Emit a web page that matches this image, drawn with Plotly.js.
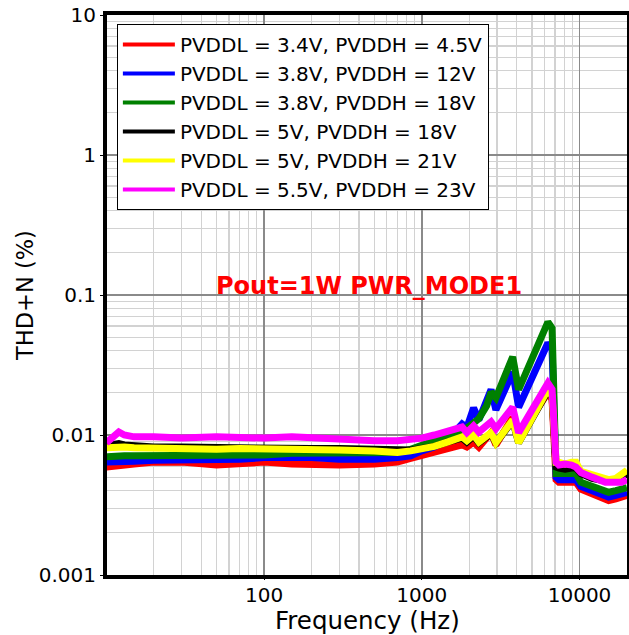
<!DOCTYPE html>
<html>
<head>
<meta charset="utf-8">
<script src="https://cdn.plot.ly/plotly-3.0.1.min.js"></script>
<style>
  html, body { margin: 0; padding: 0; background: #ffffff; }
  #chart { width: 629px; height: 635px; }
</style>
</head>
<body>
<div id="chart"></div>
<script>
// Frequency sweep points (Hz)
const freqHz = [10, 11, 12, 13, 15, 20, 30, 50, 70, 100,
  150, 200, 300, 500, 700, 850, 1000, 1200, 1450, 1700,
  1800, 1930, 2130, 2300, 2580, 2750, 2950, 3770, 4110, 6300,
  6700, 7100, 7400, 8100, 8900, 9500, 10200, 11400, 12000, 14600,
  15300, 17000, 18500, 20000];

// THD+N (%) for each supply condition
const thdPvddl34Pvddh45 = [0.0059, 0.0060, 0.0061, 0.0062, 0.0062, 0.0064, 0.0064, 0.0061, 0.0062, 0.0064,
  0.0062, 0.0061, 0.0061, 0.0062, 0.0064, 0.0068, 0.0071, 0.0075, 0.0079, 0.0083,
  0.0085, 0.0082, 0.0089, 0.0082, 0.0095, 0.0104, 0.0085, 0.0134, 0.0095, 0.0201,
  0.0180, 0.0048, 0.0046, 0.0046, 0.0046, 0.0046, 0.0041, 0.0039, 0.0037, 0.0034,
  0.0034, 0.0035, 0.0036, 0.0037];
const thdPvddl38Pvddh12 = [0.0064, 0.0064, 0.0065, 0.0065, 0.0065, 0.0066, 0.0066, 0.0067, 0.0067, 0.0069,
  0.0069, 0.0069, 0.0067, 0.0067, 0.0069, 0.0071, 0.0077, 0.0082, 0.0092, 0.0110,
  0.0120, 0.0113, 0.0156, 0.0128, 0.0169, 0.0211, 0.0151, 0.0282, 0.0158, 0.0454,
  0.0410, 0.0050, 0.0048, 0.0048, 0.0048, 0.0048, 0.0043, 0.0041, 0.0039, 0.0036,
  0.0036, 0.0037, 0.0038, 0.0039];
const thdPvddl38Pvddh18 = [0.0070, 0.0071, 0.0072, 0.0071, 0.0071, 0.0071, 0.0072, 0.0072, 0.0072, 0.0072,
  0.0074, 0.0074, 0.0075, 0.0075, 0.0075, 0.0079, 0.0085, 0.0091, 0.0097, 0.0105,
  0.0109, 0.0112, 0.0122, 0.0131, 0.0162, 0.0203, 0.0184, 0.0361, 0.0211, 0.0641,
  0.0580, 0.0053, 0.0053, 0.0053, 0.0053, 0.0053, 0.0046, 0.0044, 0.0042, 0.0040,
  0.0039, 0.0040, 0.0041, 0.0042];
const thdPvddl5Pvddh18 = [0.0084, 0.0085, 0.0087, 0.0085, 0.0084, 0.0082, 0.0082, 0.0081, 0.0082, 0.0081,
  0.0081, 0.0080, 0.0080, 0.0078, 0.0077, 0.0078, 0.0080, 0.0083, 0.0089, 0.0093,
  0.0095, 0.0089, 0.0098, 0.0088, 0.0095, 0.0102, 0.0088, 0.0126, 0.0088, 0.0207,
  0.0187, 0.0059, 0.0058, 0.0057, 0.0058, 0.0058, 0.0053, 0.0050, 0.0049, 0.0047,
  0.0047, 0.0048, 0.0050, 0.0053];
const thdPvddl5Pvddh21 = [0.0081, 0.0082, 0.0083, 0.0082, 0.0081, 0.0080, 0.0080, 0.0079, 0.0080, 0.0079,
  0.0079, 0.0078, 0.0078, 0.0077, 0.0075, 0.0077, 0.0079, 0.0083, 0.0089, 0.0095,
  0.0097, 0.0091, 0.0100, 0.0089, 0.0097, 0.0104, 0.0088, 0.0128, 0.0088, 0.0211,
  0.0190, 0.0064, 0.0064, 0.0062, 0.0064, 0.0064, 0.0055, 0.0053, 0.0051, 0.0048,
  0.0048, 0.0049, 0.0053, 0.0056];
const thdPvddl55Pvddh23 = [0.0088, 0.0095, 0.0105, 0.0100, 0.0097, 0.0097, 0.0095, 0.0097, 0.0095, 0.0095,
  0.0097, 0.0095, 0.0094, 0.0091, 0.0091, 0.0092, 0.0095, 0.0100, 0.0105, 0.0112,
  0.0114, 0.0104, 0.0116, 0.0105, 0.0116, 0.0124, 0.0111, 0.0158, 0.0104, 0.0235,
  0.0212, 0.0064, 0.0061, 0.0062, 0.0061, 0.0059, 0.0054, 0.0052, 0.0050, 0.0046,
  0.0046, 0.0046, 0.0046, 0.0048];

const seriesNames = [
  'PVDDL = 3.4V, PVDDH = 4.5V',
  'PVDDL = 3.8V, PVDDH = 12V',
  'PVDDL = 3.8V, PVDDH = 18V',
  'PVDDL = 5V, PVDDH = 18V',
  'PVDDL = 5V, PVDDH = 21V',
  'PVDDL = 5.5V, PVDDH = 23V'
];
const seriesColors = ['#ff0000', '#0000ff', '#008000', '#000000', '#ffff00', '#ff00ff'];
const seriesValues = [thdPvddl34Pvddh45, thdPvddl38Pvddh12, thdPvddl38Pvddh18,
  thdPvddl5Pvddh18, thdPvddl5Pvddh21, thdPvddl55Pvddh23];

// Axis tick labels and titles
const xTickVals = [100, 1000, 10000];
const xTickText = ['100', '1000', '10000'];
const yTickVals = [0.001, 0.01, 0.1, 1, 10];
const yTickText = ['0.001', '0.01', '0.1', '1', '10'];
const xTitle = 'Frequency (Hz)';
const yTitle = 'THD+N (%)';
const plotNote = 'Pout=1W PWR_MODE1';

const FONT = 'DejaVu Sans, Verdana, sans-serif';

const traces = [];
// Thick measurement curves
seriesValues.forEach((vals, i) => {
  traces.push({
    type: 'scatter', mode: 'lines',
    x: freqHz, y: vals,
    line: { color: seriesColors[i], width: 7 },
    showlegend: false, hoverinfo: 'skip'
  });
});
// Legend keys with a thinner stroke
seriesNames.forEach((name, i) => {
  traces.push({
    type: 'scatter', mode: 'lines',
    x: [null], y: [null],
    name: name,
    line: { color: seriesColors[i], width: 4 },
    showlegend: true, hoverinfo: 'skip'
  });
});

const layout = {
  width: 629, height: 635,
  margin: { l: 107, r: 2, t: 15, b: 60 },
  paper_bgcolor: '#ffffff', plot_bgcolor: '#ffffff',
  font: { family: FONT, color: '#000000', size: 20 },
  showlegend: true,
  xaxis: {
    type: 'log',
    range: [Math.log10(10.1), Math.log10(20000)],
    tickmode: 'array', tickvals: xTickVals, ticktext: xTickText,
    tickfont: { family: FONT, size: 20, color: '#000' },
    ticks: 'outside', ticklen: 1, tickwidth: 1, tickcolor: '#000',
    ticklabelstandoff: -2,
    showgrid: true, gridcolor: '#8a8a8a', gridwidth: 1.5,
    minor: { dtick: 'D1', showgrid: true, gridcolor: '#d2d2d2', gridwidth: 1.2 },
    showline: true, linecolor: '#000', linewidth: 4, mirror: true,
    zeroline: false
  },
  yaxis: {
    type: 'log',
    range: [-3, 1],
    tickmode: 'array', tickvals: yTickVals, ticktext: yTickText,
    tickfont: { family: FONT, size: 20, color: '#000' },
    ticks: 'outside', ticklen: 3, tickwidth: 1, tickcolor: '#000',
    showgrid: true, gridcolor: '#8a8a8a', gridwidth: 1.5,
    minor: { dtick: 'D1', showgrid: true, gridcolor: '#d2d2d2', gridwidth: 1.2 },
    showline: true, linecolor: '#000', linewidth: 4, mirror: true,
    zeroline: false,
    title: { text: yTitle, font: { family: FONT, size: 22.5, color: '#000' }, standoff: 0 }
  },
  legend: {
    x: 0.019, y: 0.984, xanchor: 'left', yanchor: 'top',
    bgcolor: '#ffffff', bordercolor: '#000000', borderwidth: 1,
    font: { family: FONT, size: 20, color: '#000' },
    itemwidth: 52, tracegroupgap: 0
  },
  annotations: [
    {
      // x-axis title, set just below the tick labels
      xref: 'paper', yref: 'paper', x: 0.5, y: -0.0815,
      xanchor: 'center', yanchor: 'middle', showarrow: false,
      text: xTitle,
      font: { family: FONT, size: 24.5, color: '#000' }
    },
    {
      xref: 'paper', yref: 'paper', x: 0.504, y: 0.516,
      xanchor: 'center', yanchor: 'middle', showarrow: false,
      text: '<b>' + plotNote + '</b>',
      font: { family: FONT, size: 24, color: '#ff0000' }
    }
  ]
};

Plotly.newPlot('chart', traces, layout, { displayModeBar: false, staticPlot: true });
</script>
</body>
</html>
